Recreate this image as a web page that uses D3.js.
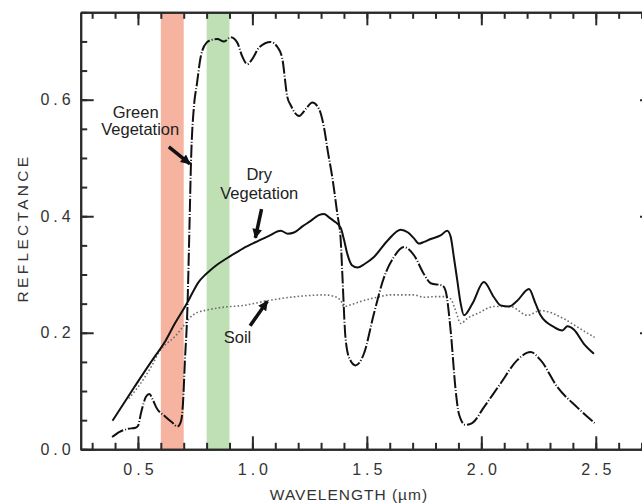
<!DOCTYPE html>
<meta charset="utf-8">
<script src="https://d3js.org/d3.v7.min.js"></script>
<style>
body { margin: 0; background: #fff; }
svg { display: block; font-family: "Liberation Sans", Arial, sans-serif; }
.axis path, .axis line { stroke: #2a2a2a; stroke-width: 2; }
.axis text { font-size: 16px; fill: #333; letter-spacing: 4px; font-family: "Liberation Sans", Arial, sans-serif; }
.title { fill: #333; }
.note { font-size: 16.5px; fill: #222; }
</style>
<div id="chart"></div>
<script>
// wavelength (um), reflectance
var greenVeg = [
  [0.387,0.021],[0.42,0.030],[0.455,0.035],[0.49,0.037],[0.50,0.040],[0.515,0.065],
  [0.535,0.090],[0.55,0.095],[0.565,0.085],[0.58,0.072],[0.62,0.056],[0.65,0.046],
  [0.672,0.039],[0.688,0.048],[0.697,0.080],[0.705,0.150],[0.716,0.240],[0.725,0.380],
  [0.732,0.495],[0.745,0.590],[0.757,0.625],[0.775,0.675],[0.80,0.698],[0.825,0.703],
  [0.847,0.704],[0.876,0.700],[0.905,0.707],[0.934,0.698],[0.955,0.675],[0.978,0.661],
  [1.00,0.670],[1.03,0.690],[1.08,0.699],[1.11,0.690],[1.13,0.672],[1.153,0.604],
  [1.168,0.590],[1.204,0.572],[1.235,0.585],[1.262,0.595],[1.291,0.584],[1.313,0.552],
  [1.33,0.510],[1.349,0.467],[1.371,0.404],[1.386,0.358],[1.393,0.300],[1.407,0.190],
  [1.425,0.155],[1.451,0.144],[1.487,0.164],[1.531,0.233],[1.575,0.295],[1.618,0.330],
  [1.662,0.347],[1.706,0.333],[1.749,0.301],[1.779,0.285],[1.83,0.281],[1.844,0.272],
  [1.866,0.204],[1.888,0.101],[1.902,0.061],[1.93,0.042],[1.96,0.045],[2.011,0.072],
  [2.084,0.113],[2.157,0.153],[2.215,0.167],[2.259,0.153],[2.332,0.107],[2.419,0.072],
  [2.495,0.045]
];
var dryVeg = [
  [0.389,0.049],[0.483,0.106],[0.575,0.160],[0.597,0.172],[0.62,0.186],[0.66,0.215],
  [0.716,0.252],[0.74,0.270],[0.765,0.287],[0.79,0.298],[0.815,0.307],[0.84,0.315],
  [0.905,0.332],[0.96,0.345],
  [1.022,0.357],[1.07,0.366],[1.124,0.375],[1.155,0.370],[1.182,0.372],[1.22,0.383],
  [1.255,0.392],[1.29,0.402],[1.313,0.404],[1.335,0.398],[1.356,0.392],[1.386,0.380],
  [1.40,0.360],[1.415,0.335],[1.435,0.316],[1.459,0.312],[1.49,0.318],[1.531,0.330],
  [1.59,0.358],[1.648,0.377],[1.68,0.372],[1.706,0.362],[1.728,0.353],[1.75,0.356],
  [1.779,0.361],[1.822,0.367],[1.851,0.375],[1.866,0.365],[1.88,0.330],[1.895,0.290],
  [1.91,0.250],[1.924,0.230],[1.961,0.250],[2.011,0.287],[2.055,0.261],[2.084,0.247],
  [2.121,0.245],[2.157,0.255],[2.208,0.275],[2.237,0.250],[2.259,0.230],[2.317,0.210],
  [2.354,0.204],[2.376,0.211],[2.405,0.205],[2.448,0.181],[2.492,0.164]
];
var soil = [
  [0.46,0.087],[0.51,0.112],[0.56,0.143],[0.597,0.170],[0.63,0.183],[0.658,0.192],
  [0.70,0.212],[0.73,0.227],[0.76,0.235],[0.789,0.238],[0.876,0.244],[0.963,0.247],
  [1.065,0.255],[1.167,0.261],[1.25,0.264],[1.313,0.265],[1.36,0.262],[1.386,0.255],
  [1.40,0.245],[1.43,0.248],[1.459,0.252],[1.546,0.261],[1.604,0.265],[1.706,0.265],
  [1.749,0.261],[1.80,0.262],[1.837,0.262],[1.866,0.258],[1.888,0.238],[1.91,0.216],
  [1.94,0.225],[1.983,0.233],[2.055,0.245],[2.128,0.245],[2.201,0.230],[2.259,0.238],
  [2.361,0.224],[2.419,0.210],[2.495,0.192]
];
var bands = [
  {from: 0.6, to: 0.7, color: "#f6b4a0"},
  {from: 0.8, to: 0.9, color: "#bfe0b4"}
];
var xMajor = [0.5, 1.0, 1.5, 2.0, 2.5];
var xMinor = d3.range(3, 28).map(function(d) { return d / 10; });
var yMajor = [0.0, 0.2, 0.4, 0.6];
var yMinor = d3.range(0, 16).map(function(d) { return d * 0.05; });

// labels: text lines, anchor point in data units; arrows from -> to in data units
var notes = [
  {lines: ["Green", "Vegetation"], x: [0.49, 0.51], y: [0.568, 0.539]},
  {lines: ["Dry", "Vegetation"], x: [1.03, 1.03], y: [0.462, 0.43]},
  {lines: ["Soil"], x: [0.935], y: [0.183]}
];
var arrows = [
  {from: [0.635, 0.519], to: [0.727, 0.49]},
  {from: [1.04, 0.412], to: [1.013, 0.363]},
  {from: [0.99, 0.212], to: [1.065, 0.254]}
];

var width = 642, height = 504;
var x = d3.scaleLinear().domain([0.25, 2.75]).range([80.7, 653]);
var y = d3.scaleLinear().domain([0, 0.75]).range([449.3, 12.3]);

var svg = d3.select("#chart").append("svg")
  .attr("width", width).attr("height", height);

svg.append("defs").append("marker")
  .attr("id", "head").attr("viewBox", "0 0 10 10")
  .attr("refX", 9).attr("refY", 5)
  .attr("markerWidth", 3.4).attr("markerHeight", 2.8)
  .attr("orient", "auto")
  .append("path").attr("d", "M0,0L10,5L0,10z").attr("fill", "#111");

// spectral bands
svg.selectAll(".band").data(bands).enter().append("rect")
  .attr("x", function(d) { return x(d.from); })
  .attr("width", function(d) { return x(d.to) - x(d.from); })
  .attr("y", y(0.75)).attr("height", y(0) - y(0.75))
  .attr("fill", function(d) { return d.color; });

// axes on all four sides, ticks pointing inward
function axisGroup(axis, tx, ty) {
  return svg.append("g").attr("class", "axis")
    .attr("transform", "translate(" + tx + "," + ty + ")")
    .call(axis);
}
axisGroup(d3.axisBottom(x).tickValues(xMinor).tickSize(-6.5).tickSizeOuter(0).tickFormat(""), 0, y(0));
axisGroup(d3.axisBottom(x).tickValues(xMajor).tickSize(-13).tickSizeOuter(0).tickPadding(14).tickFormat(d3.format(".1f")), 0, y(0))
  .selectAll("text").attr("dx", "2px");
axisGroup(d3.axisTop(x).tickValues(xMinor).tickSize(-6.5).tickSizeOuter(0).tickFormat(""), 0, y(0.75));
axisGroup(d3.axisTop(x).tickValues(xMajor).tickSize(-13).tickSizeOuter(0).tickFormat(""), 0, y(0.75));
axisGroup(d3.axisLeft(y).tickValues(yMinor).tickSize(-6.5).tickSizeOuter(0).tickFormat(""), x(0.25), 0);
axisGroup(d3.axisLeft(y).tickValues(yMajor).tickSize(-13).tickSizeOuter(0).tickPadding(6).tickFormat(d3.format(".1f")), x(0.25), 0);
axisGroup(d3.axisRight(y).tickValues(yMinor).tickSize(-6.5).tickSizeOuter(0).tickFormat(""), x(2.75), 0);
axisGroup(d3.axisRight(y).tickValues(yMajor).tickSize(-13).tickSizeOuter(0).tickFormat(""), x(2.75), 0);

// spectra
var line = d3.line()
  .x(function(d) { return x(d[0]); })
  .y(function(d) { return y(d[1]); })
  .curve(d3.curveMonotoneX);

svg.append("path").datum(soil).attr("d", line)
  .attr("fill", "none").attr("stroke", "#6f6f6f").attr("stroke-width", 1.6)
  .attr("stroke-dasharray", "1.6,2.2");
svg.append("path").datum(dryVeg).attr("d", line)
  .attr("fill", "none").attr("stroke", "#111").attr("stroke-width", 2);
svg.append("path").datum(greenVeg).attr("d", line)
  .attr("fill", "none").attr("stroke", "#111").attr("stroke-width", 2)
  .attr("stroke-dasharray", "13,2,1,2");

// annotations
notes.forEach(function(n) {
  n.lines.forEach(function(t, i) {
    svg.append("text").attr("class", "note")
      .attr("x", x(n.x[i])).attr("y", y(n.y[i]))
      .attr("text-anchor", "middle").text(t);
  });
});
svg.selectAll(".arrow").data(arrows).enter().append("line")
  .attr("x1", function(d) { return x(d.from[0]); })
  .attr("y1", function(d) { return y(d.from[1]); })
  .attr("x2", function(d) { return x(d.to[0]); })
  .attr("y2", function(d) { return y(d.to[1]); })
  .attr("stroke", "#111").attr("stroke-width", 3.5)
  .attr("marker-end", "url(#head)");

// axis titles
svg.append("text").attr("class", "title")
  .attr("x", 349).attr("y", 500).attr("font-size", "15.5px")
  .attr("text-anchor", "middle").attr("letter-spacing", "1px")
  .text("WAVELENGTH  (\u00b5m)");
svg.append("text").attr("class", "title")
  .attr("transform", "translate(28,228) rotate(-90)").attr("font-size", "15.5px")
  .attr("text-anchor", "middle").attr("letter-spacing", "3.3px")
  .text("REFLECTANCE");
</script>
